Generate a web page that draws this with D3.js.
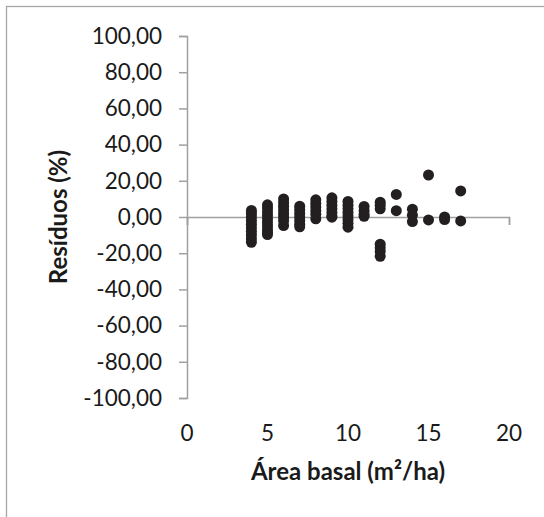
<!DOCTYPE html>
<html>
<head>
<meta charset="utf-8">
<script src="https://cdn.jsdelivr.net/npm/d3@7"></script>
<style>
  body { margin: 0; background: #fff; }
  text { font-family: Lato, "Open Sans", sans-serif; fill: #1a1a1a; }
</style>
</head>
<body>
<div id="chart"></div>
<script>
// data: one entry per point (area basal, residuo %)
var areaBasal = [
  4, 4, 4, 4, 4, 4, 4, 4, 4, 4,
  5, 5, 5, 5, 5, 5, 5, 5, 5, 5,
  6, 6, 6, 6, 6, 6, 6, 6,
  7, 7, 7, 7, 7, 7, 7,
  8, 8, 8, 8, 8, 8,
  9, 9, 9, 9, 9, 9, 9,
  10, 10, 10, 10, 10, 10, 10, 10,
  11, 11, 11, 11,
  12, 12, 12, 12, 12, 12, 12,
  13, 13,
  14, 14, 14,
  15, 15,
  16, 16,
  17, 17
];
var residuos = [
  3.6, 2, 0, -2, -4, -6, -8, -10, -12, -14,
  6.7, 5, 3, 1, -1, -3, -5, -7, -8.5, -9.7,
  10, 8, 6, 4, 2, 0, -2, -4.7,
  6, 4, 2, 0, -2, -4, -5.4,
  9.5, 7.5, 5.5, 3.5, 1.5, -1,
  10.6, 8.5, 6.5, 4.5, 2.5, 0.5, -0.1,
  8.6, 6.5, 4.5, 2.5, 0.5, -1.5, -3.5, -5.6,
  5.8, 3.5, 1.5, 0.4,
  8.2, 6.5, 4.5, -15, -17, -19, -21.7,
  12.5, 3.5,
  4.3, 1, -2.5,
  23.2, -1.6,
  0, -1.4,
  14.4, -2.2
];
var xTicks = [0, 5, 10, 15, 20];
var yTicks = [-100, -80, -60, -40, -20, 0, 20, 40, 60, 80, 100];

var svgWidth = 544;
var svgHeight = 517;

var svg = d3.select("#chart")
  .append("svg")
  .attr("width", svgWidth)
  .attr("height", svgHeight);

// chart area border (runs off the right and bottom edge)
svg.append("rect")
  .attr("x", 6.5)
  .attr("y", 6.5)
  .attr("width", 600)
  .attr("height", 600)
  .attr("fill", "none")
  .attr("stroke", "#a6a6a6")
  .attr("stroke-width", 1.3);

var xScale = d3.scaleLinear().domain([0, 20]).range([187, 509]);
var yScale = d3.scaleLinear().domain([-100, 100]).range([398, 36]);

var ptBr = d3.formatLocale({ decimal: ",", thousands: ".", grouping: [3], currency: ["", ""], minus: "-" });
var fmt = ptBr.format(".2f");

// y axis
var yAxis = svg.append("g")
  .attr("transform", `translate(${xScale(0)},0)`)
  .call(d3.axisLeft(yScale).tickValues(yTicks).tickSize(8).tickPadding(17).tickFormat(fmt));

// x axis crosses at zero, labels sit below the plot
var xAxis = svg.append("g")
  .attr("transform", `translate(0,${yScale(0)})`)
  .call(d3.axisBottom(xScale).tickValues(xTicks).tickSize(8).tickFormat(""));

svg.selectAll(".domain, .tick line")
  .attr("stroke", "#a0a0a0")
  .attr("stroke-width", 1.5);

yAxis.selectAll(".tick text")
  .style("font-size", "22.5px")
  .attr("fill", "#1a1a1a");

svg.append("g").selectAll("text")
  .data(xTicks)
  .enter()
  .append("text")
  .attr("x", d => xScale(d))
  .attr("y", 441)
  .style("font-size", "22.5px")
  .style("text-anchor", "middle")
  .text(d => d);

// points
var pts = areaBasal.map((a, i) => ({ x: a, y: residuos[i] }));
svg.append("g").selectAll("circle")
  .data(pts)
  .enter()
  .append("circle")
  .attr("cx", d => xScale(d.x))
  .attr("cy", d => yScale(d.y))
  .attr("r", 5.5)
  .attr("fill", "#231f20");

// axis titles
svg.append("text")
  .attr("transform", `translate(67, ${yScale(0)}) rotate(-90)`)
  .style("font-size", "24px")
  .style("font-weight", "bold")
  .style("text-anchor", "middle")
  .text("Resíduos (%)");

svg.append("text")
  .attr("x", 348)
  .attr("y", 480)
  .style("font-size", "24px")
  .style("font-weight", "bold")
  .style("text-anchor", "middle")
  .text("Área basal (m²/ha)");
</script>
</body>
</html>
